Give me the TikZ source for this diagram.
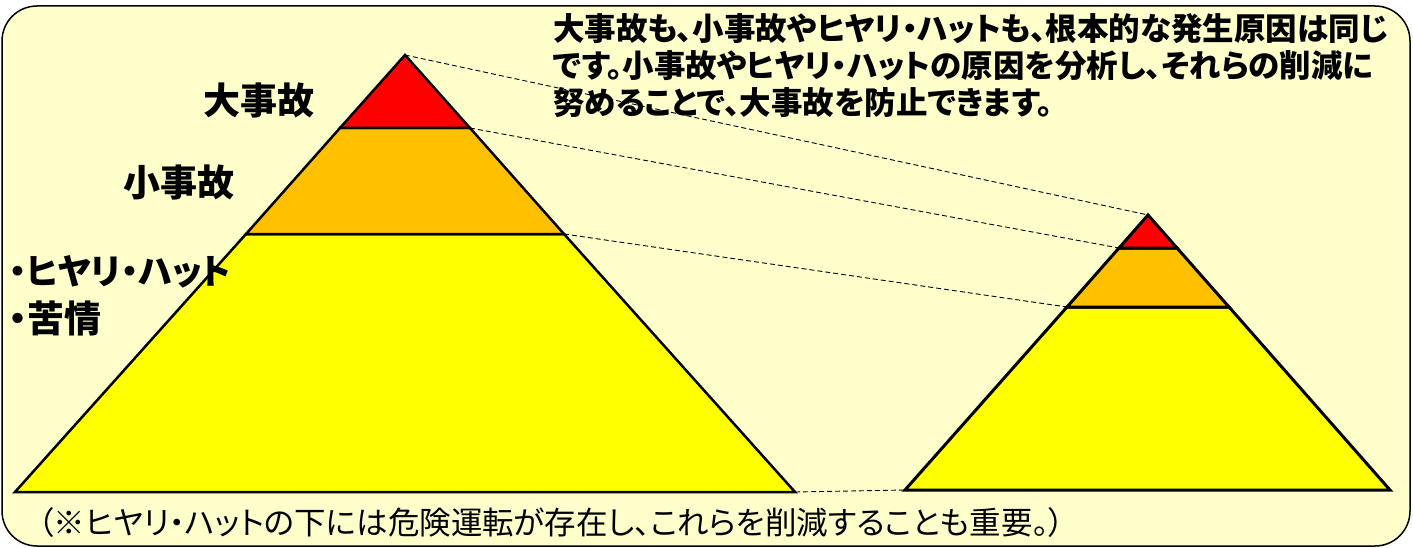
\documentclass[tikz,border=0pt]{standalone}
\usepackage{fontspec}
\setmainfont{Noto Sans CJK JP}[RawFeature=+palt]
\usetikzlibrary{positioning}
\definecolor{bgyellow}{HTML}{FFFFCC}
\definecolor{torange}{HTML}{FFC000}
\definecolor{tyellow}{HTML}{FFFF00}
\definecolor{tred}{HTML}{FF0000}

\begin{document}
\begin{tikzpicture}[x=1pt,y=-1pt,
    tier/.style={draw=black,line width=2.5pt,line join=miter},
    guide/.style={line width=0.9pt,dash pattern=on 5pt off 3pt},
    lbl/.style={inner sep=0pt,anchor=west,font=\bfseries\fontsize{37}{40}\selectfont}]
  \path[use as bounding box] (0,0) rectangle (1413,548);
  \draw[fill=bgyellow,line width=1.5pt,rounded corners=35pt] (2,6) rectangle (1410,546);

  % large pyramid
  \coordinate (bigtop) at (405,55);
  \coordinate (bigl1) at (340,128);
  \coordinate (bigr1) at (470,128);
  \coordinate (bigl2) at (246,234);
  \coordinate (bigr2) at (564,234);
  \coordinate (bigl) at (15,492);
  \coordinate (bigr) at (795,492);
  \draw[tier,fill=tyellow] (bigl2) -- (bigr2) -- (bigr) -- (bigl) -- cycle;
  \draw[tier,fill=torange] (bigl1) -- (bigr1) -- (bigr2) -- (bigl2) -- cycle;
  \draw[tier,fill=tred] (bigtop) -- (bigr1) -- (bigl1) -- cycle;

  % small pyramid
  \coordinate (smtop) at (1148,215);
  \coordinate (sml1) at (1119,248);
  \coordinate (smr1) at (1177,248);
  \coordinate (sml2) at (1067,307);
  \coordinate (smr2) at (1229,307);
  \coordinate (sml) at (905,490);
  \coordinate (smr) at (1390,490);
  \draw[tier,line width=3pt,fill=tyellow] (sml2) -- (smr2) -- (smr) -- (sml) -- cycle;
  \draw[tier,line width=3pt,fill=torange] (sml1) -- (smr1) -- (smr2) -- (sml2) -- cycle;
  \draw[tier,line width=3pt,fill=tred] (smtop) -- (smr1) -- (sml1) -- cycle;

  \path[guide]
    (bigtop) edge (smtop)
    (bigr1) edge (sml1)
    (bigr2) edge (sml2)
    (bigr) edge (sml);

  % labels
  \node (major) [lbl] at (203,100) {大事故};
  \node (minor) [lbl] at (123,182) {小事故};
  \node (nearmiss) [lbl,font=\bfseries\fontsize{35}{40}\selectfont] at (9,272) {・ヒヤリ・ハット};
  \node (complaint) [lbl] at (9,318) {・苦情};

  \node (note) [inner sep=0pt,anchor=north west,align=left,
    font=\bfseries\fontsize{31.5}{37}\selectfont] at (553,13)
    {大事故も、小事故やヒヤリ・ハットも、根本的な発生原因は同じ\\
     です。小事故やヒヤリ・ハットの原因を分析し、それらの削減に\\
     努めることで、大事故を防止できます。};
  \node (remark) [inner sep=0pt,anchor=west,
    font=\fontsize{31.5}{34}\selectfont] at (38,523)
    {（※ヒヤリ・ハットの下には危険運転が存在し、これらを削減することも重要。）};
\end{tikzpicture}
\end{document}
